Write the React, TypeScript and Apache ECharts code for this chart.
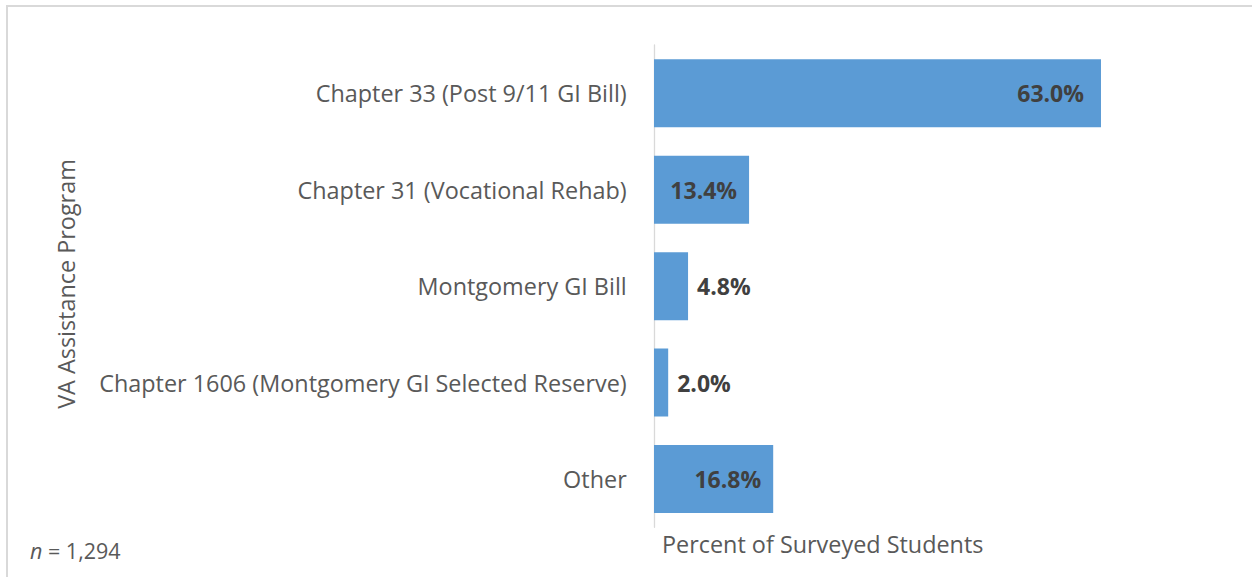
import React, { useEffect, useRef } from "react";
import * as echarts from "echarts";

const categories = [
  "Chapter 33 (Post 9/11 GI Bill)",
  "Chapter 31 (Vocational Rehab)",
  "Montgomery GI Bill",
  "Chapter 1606 (Montgomery GI Selected Reserve)",
  "Other",
];
const values = [63.0, 13.4, 4.8, 2.0, 16.8];
const labelInside = [true, true, false, false, true];
const xAxisTitle = "Percent of Surveyed Students";
const yAxisTitle = "VA Assistance Program";
const sampleSize = "1,294";

const FONT = "'Open Sans', sans-serif";
const FS = 23.4;

export default function App() {
  const ref = useRef<HTMLDivElement>(null);
  useEffect(() => {
    document.body.style.margin = "0";
    const chart = echarts.init(ref.current!, null, { renderer: "svg" });
    chart.setOption({
      animation: false,
      backgroundColor: "#ffffff",
      grid: { left: 654, top: 45, width: 496.65, height: 482.3 },
      xAxis: { type: "value", min: 0, max: 70, show: false },
      yAxis: {
        type: "category",
        data: categories,
        inverse: true,
        offset: 1.3,
        axisLine: { lineStyle: { color: "#d9d9d9", width: 1.3 } },
        axisTick: { show: false },
        splitLine: { show: false },
        axisLabel: {
          color: "#595959",
          fontSize: FS,
          fontFamily: FONT,
          margin: 26,
        },
      },
      series: [
        {
          type: "bar",
          barWidth: 68,
          itemStyle: { color: "#5B9BD5" },
          label: {
            show: true,
            formatter: (p: any) => Number(p.value).toFixed(1) + "%",
            color: "#404040",
            fontWeight: "bold",
            fontSize: 23,
            fontFamily: FONT,
          },
          data: values.map((v, i) => ({
            value: v,
            label: labelInside[i]
              ? { position: "insideRight", distance: i === 0 ? 17 : 12 }
              : { position: "right", distance: 9 },
          })),
        },
      ],
      graphic: [
        {
          type: "rect",
          silent: true,
          shape: { x: 7, y: 6, width: 1400, height: 800 },
          style: { fill: "none", stroke: "#d9d9d9", lineWidth: 2 },
        },
        {
          type: "text",
          x: 662,
          y: 543.5,
          style: {
            text: xAxisTitle,
            fontSize: FS,
            fontFamily: FONT,
            fill: "#595959",
            align: "left",
            verticalAlign: "middle",
          },
        },
        {
          type: "text",
          x: 65.5,
          y: 284,
          rotation: Math.PI / 2,
          style: {
            text: yAxisTitle,
            fontSize: FS,
            fontFamily: FONT,
            fill: "#595959",
            align: "center",
            verticalAlign: "middle",
          },
        },
        {
          type: "text",
          x: 30,
          y: 550,
          style: {
            text: "{i|n} = " + sampleSize,
            fontSize: 21.5,
            fontFamily: FONT,
            fill: "#595959",
            align: "left",
            verticalAlign: "middle",
            rich: {
              i: { fontStyle: "italic", fontSize: 21.5, fontFamily: FONT, fill: "#595959" },
            },
          },
        },
      ],
    });
    return () => chart.dispose();
  }, []);
  return <div ref={ref} style={{ width: 1252, height: 577 }} />;
}
